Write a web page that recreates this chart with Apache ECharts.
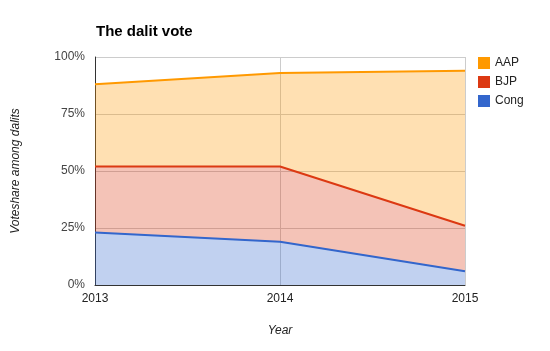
<!DOCTYPE html>
<html>
<head>
<meta charset="utf-8">
<script src="https://cdn.jsdelivr.net/npm/echarts@6/dist/echarts.min.js"></script>
<style>
  html, body { margin: 0; padding: 0; background: #fff; }
  #chart { width: 550px; height: 351px; }
</style>
</head>
<body>
<div id="chart"></div>
<script>
  var years = ['2013', '2014', '2015']
  var congData = [23, 19, 6]
  var bjpData = [29, 33, 20]
  var aapData = [36, 41, 68]
  var yTicks = [0, 25, 50, 75, 100]

  var font = 'Arial, "Liberation Sans", sans-serif'

  function makeSeries(name, data, color){
    return {
      name: name,
      type: 'line',
      stack: 'vote',
      data: data,
      symbol: 'none',
      lineStyle: { color: color, width: 2 },
      itemStyle: { color: color },
      areaStyle: { color: color, opacity: 0.3 }
    }
  }

  var myChart = echarts.init(document.getElementById('chart'))
  var chartOption = {
    animation: false,
    textStyle: { fontFamily: font },
    title: {
      text: 'The dalit vote',
      left: 91,
      top: 19,
      textStyle: { fontFamily: font, fontSize: 15, fontWeight: 'bold', color: '#000' }
    },
    legend: {
      data: ['AAP', 'BJP', 'Cong'],
      orient: 'vertical',
      left: 473,
      top: 52,
      icon: 'rect',
      itemWidth: 12,
      itemHeight: 12,
      itemGap: 7,
      textStyle: { fontFamily: font, fontSize: 12, color: '#222' }
    },
    grid: { left: 95, right: 85, top: 57, bottom: 66 },
    xAxis: {
      type: 'category',
      data: years,
      boundaryGap: false,
      name: 'Year',
      nameLocation: 'middle',
      nameGap: 40,
      nameTextStyle: { fontFamily: font, fontStyle: 'italic', fontSize: 12, color: '#222' },
      axisLine: { lineStyle: { color: '#333', width: 1 } },
      axisTick: { show: false },
      axisLabel: { fontFamily: font, fontSize: 12, color: '#222', margin: 8 },
      splitLine: { show: true, lineStyle: { color: '#ccc' } }
    },
    yAxis: {
      type: 'value',
      min: yTicks[0],
      max: yTicks[yTicks.length - 1],
      interval: 25,
      name: 'Voteshare among dalits',
      nameLocation: 'middle',
      nameGap: 73,
      nameTextStyle: { fontFamily: font, fontStyle: 'italic', fontSize: 12, color: '#222' },
      axisLine: { show: true, lineStyle: { color: '#333', width: 1 } },
      axisTick: { show: false },
      axisLabel: { fontFamily: font, fontSize: 12, color: '#444', formatter: '{value}%', margin: 10 },
      splitLine: { show: true, lineStyle: { color: '#ccc' } }
    },
    series: [
      makeSeries('Cong', congData, '#3366cc'),
      makeSeries('BJP', bjpData, '#dc3912'),
      makeSeries('AAP', aapData, '#ff9900')
    ]
  }
  myChart.setOption(chartOption)
</script>
</body>
</html>
